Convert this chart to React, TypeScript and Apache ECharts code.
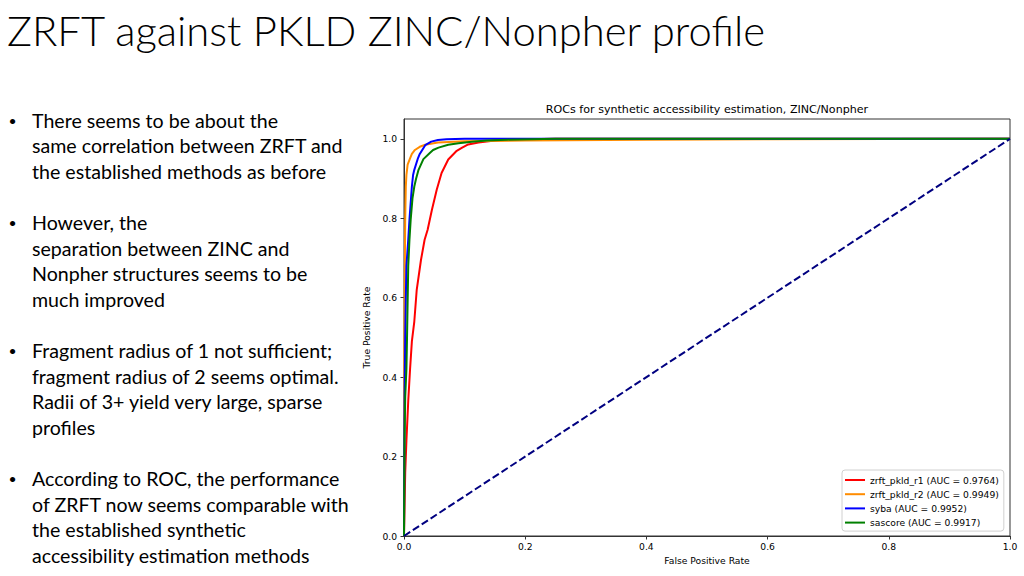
import React, { useEffect, useRef } from "react";
import * as echarts from "echarts";

const slideTitle = "ZRFT against PKLD ZINC/Nonpher profile";
const bulletParagraphs: string[][] = [
  ["There seems to be about the", "same correlation between ZRFT and", "the established methods as before"],
  ["However, the", "separation between ZINC and", "Nonpher structures seems to be", "much improved"],
  ["Fragment radius of 1 not sufficient;", "fragment radius of 2 seems optimal.", "Radii of 3+ yield very large, sparse", "profiles"],
  ["According to ROC, the performance", "of ZRFT now seems comparable with", "the established synthetic", "accessibility estimation methods"],
];

const chartTitle = "ROCs for synthetic accessibility estimation, ZINC/Nonpher";
const xAxisName = "False Positive Rate";
const yAxisName = "True Positive Rate";
const tickValues = [0, 0.2, 0.4, 0.6, 0.8, 1.0];

const seriesNames = [
  "zrft_pkld_r1 (AUC = 0.9764)",
  "zrft_pkld_r2 (AUC = 0.9949)",
  "syba (AUC = 0.9952)",
  "sascore (AUC = 0.9917)",
];
const seriesColors = ["#ff0000", "#ff8c00", "#0000ff", "#008000"];

const r1Fpr = [0, 0.001, 0.002, 0.003, 0.004, 0.007, 0.010, 0.013, 0.017, 0.021, 0.028, 0.034, 0.039, 0.046, 0.054, 0.062, 0.073, 0.087, 0.096, 0.106, 0.123, 0.15, 0.2, 0.25, 1.0];
const r1Tpr = [0, 0.08, 0.16, 0.2, 0.24, 0.34, 0.42, 0.49, 0.54, 0.62, 0.695, 0.746, 0.771, 0.821, 0.872, 0.914, 0.948, 0.97, 0.978, 0.986, 0.991, 0.996, 0.999, 1.0, 1.0];

const r2Fpr = [0, 0.0005, 0.001, 0.002, 0.003, 0.004, 0.006, 0.010, 0.013, 0.018, 0.026, 0.035, 0.056, 0.1, 0.2, 0.4, 0.6, 1.0];
const r2Tpr = [0, 0.4, 0.6, 0.8, 0.88, 0.909, 0.935, 0.951, 0.962, 0.972, 0.98, 0.985, 0.991, 0.994, 0.996, 0.998, 0.999, 1.0];

const sybaFpr = [0, 0.0005, 0.001, 0.002, 0.003, 0.004, 0.007, 0.009, 0.013, 0.015, 0.017, 0.023, 0.026, 0.035, 0.045, 0.056, 0.07, 0.1, 1.0];
const sybaTpr = [0, 0.2, 0.35, 0.5, 0.6, 0.68, 0.746, 0.796, 0.88, 0.909, 0.922, 0.951, 0.962, 0.984, 0.993, 0.997, 0.999, 1.0, 1.0];

const sascoreFpr = [0, 0.0005, 0.001, 0.002, 0.004, 0.005, 0.007, 0.009, 0.011, 0.014, 0.017, 0.02, 0.024, 0.032, 0.043, 0.048, 0.057, 0.073, 0.09, 0.112, 0.137, 0.17, 0.25, 1.0];
const sascoreTpr = [0, 0.15, 0.25, 0.35, 0.42, 0.5, 0.68, 0.746, 0.796, 0.85, 0.88, 0.9, 0.922, 0.949, 0.965, 0.972, 0.978, 0.985, 0.989, 0.993, 0.996, 0.998, 1.0, 1.0];

const chanceFpr = [0, 1];
const chanceTpr = [0, 1];

const allFpr = [r1Fpr, r2Fpr, sybaFpr, sascoreFpr];
const allTpr = [r1Tpr, r2Tpr, sybaTpr, sascoreTpr];

const pairs = (xs: number[], ys: number[]) => xs.map((x, i) => [x, ys[i]]);

const chartFont = "DejaVu Sans";
const slideFont = "Lato";

export default function App() {
  const ref = useRef<HTMLDivElement>(null);

  useEffect(() => {
    if (!ref.current) return;
    const chart = echarts.init(ref.current, undefined, { renderer: "svg" });

    const graphics: any[] = [
      {
        type: "text",
        x: 7,
        y: 30,
        style: {
          text: slideTitle,
          fontSize: 41.8,
          fontFamily: slideFont,
          fontWeight: 300,
          fill: "#000",
          align: "left",
          verticalAlign: "middle",
        },
      },
    ];
    let lineIdx = 0;
    bulletParagraphs.forEach((para, pi) => {
      if (pi > 0) lineIdx += 1;
      para.forEach((line, li) => {
        const y = 120 + 25.6 * lineIdx;
        if (li === 0) {
          graphics.push({
            type: "text",
            x: 8.5,
            y: y + 0.5,
            style: { text: "•", fontSize: 14, fontFamily: slideFont, fill: "#000", align: "left", verticalAlign: "middle" },
          });
        }
        graphics.push({
          type: "text",
          x: 32,
          y,
          style: { text: line, fontSize: 19.6, fontFamily: slideFont, fill: "#000", align: "left", verticalAlign: "middle" },
        });
        lineIdx += 1;
      });
    });

    const lineSeries = seriesNames.map((name, i) => ({
      name,
      type: "line",
      data: pairs(allFpr[i], allTpr[i]),
      showSymbol: false,
      symbol: "none",
      smooth: false,
      lineStyle: { color: seriesColors[i], width: 2 },
      itemStyle: { color: seriesColors[i] },
      z: 3 + i,
    }));

    chart.setOption({
      animation: false,
      backgroundColor: "#ffffff",
      textStyle: { fontFamily: chartFont },
      title: {
        text: chartTitle,
        left: 707,
        top: 104,
        textAlign: "center",
        padding: 0,
        textStyle: { fontFamily: chartFont, fontSize: 11.1, fontWeight: "normal", color: "#000" },
      },
      grid: {
        left: 404,
        right: 14,
        top: 119,
        bottom: 40,
        show: true,
        borderColor: "#333",
        borderWidth: 1,
        backgroundColor: "transparent",
      },
      legend: {
        data: seriesNames,
        orient: "vertical",
        left: 842,
        top: 470,
        padding: [4.5, 5, 3, 3],
        itemGap: 3.2,
        itemWidth: 20,
        itemHeight: 2,
        icon: "rect",
        backgroundColor: "#fff",
        borderColor: "#d0d0d0",
        borderWidth: 1,
        borderRadius: 3,
        textStyle: { fontFamily: chartFont, fontSize: 9.2, color: "#000", lineHeight: 11 },
      },
      xAxis: {
        type: "value",
        min: 0,
        max: 1,
        interval: 0.2,
        name: xAxisName,
        nameLocation: "middle",
        nameGap: 19.5,
        nameTextStyle: { fontFamily: chartFont, fontSize: 9.2, color: "#000" },
        axisLine: { show: true, lineStyle: { color: "#333", width: 1 } },
        axisTick: { show: true, length: 3.5, lineStyle: { color: "#333" } },
        axisLabel: {
          margin: 6,
          fontFamily: chartFont,
          fontSize: 9.2,
          color: "#000",
          formatter: (v: number) => v.toFixed(1),
        },
        splitLine: { show: false },
      },
      yAxis: {
        type: "value",
        min: 0,
        max: 1.05,
        name: yAxisName,
        nameLocation: "middle",
        nameGap: 27.5,
        nameTextStyle: { fontFamily: chartFont, fontSize: 9.2, color: "#000" },
        axisLine: { show: true, lineStyle: { color: "#333", width: 1 } },
        axisTick: { show: true, length: 3.5, lineStyle: { color: "#333" }, customValues: tickValues },
        axisLabel: {
          margin: 7,
          fontFamily: chartFont,
          fontSize: 9.2,
          color: "#000",
          customValues: tickValues,
          formatter: (v: number) => v.toFixed(1),
        },
        splitLine: { show: false },
      },
      series: [
        ...lineSeries,
        {
          name: "chance",
          type: "line",
          data: pairs(chanceFpr, chanceTpr),
          showSymbol: false,
          symbol: "none",
          lineStyle: { color: "#000080", width: 2, type: [7.4, 3.2] },
          z: 10,
        },
      ],
      graphic: graphics,
    });

    return () => chart.dispose();
  }, []);

  return (
    <div
      ref={ref}
      style={{ position: "fixed", left: 0, top: 0, width: 1024, height: 576, background: "#fff" }}
    />
  );
}
